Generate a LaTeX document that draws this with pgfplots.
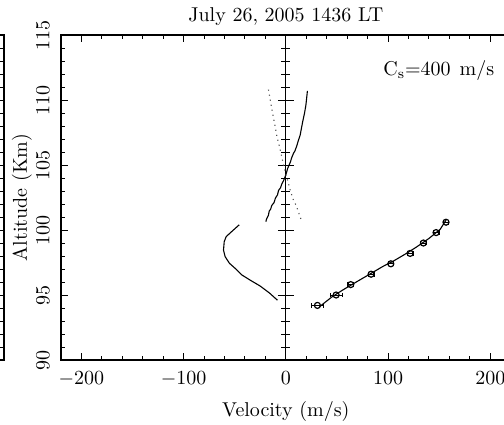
\documentclass[border=0pt]{standalone}
\usepackage{pgfplots}
\pgfplotsset{compat=1.18}
\pgfplotsset{
  every axis/.append style={font=\fontsize{10}{12}\selectfont},
  every axis title/.style={at={(0.5,1)}, anchor=base, yshift=6.65pt, inner sep=0pt},
  myax/.style={
    scale only axis, width=224.85pt, height=162.5pt,
    xmin=-220, xmax=220, ymin=90, ymax=115,
    xtick={-200,-100,...,200}, minor x tick num=4,
    ytick={90,95,...,115}, minor y tick num=4,
    tick align=inside, major tick length=3.5pt, minor tick length=2pt,
    xtick pos=both, ytick pos=both,
    axis line style={line width=0.6pt},
    every tick/.style={black, line width=0.5pt},
  }
}
\begin{document}
\begin{tikzpicture}
\useasboundingbox (0,0) rectangle (252pt,212pt);
\clip (0,0) rectangle (252pt,212pt);
% partial left panel (cropped)
\begin{axis}[myax, at={(-222.85pt,32pt)}, anchor=south west,
  xticklabels={}, yticklabels={}]
\end{axis}
% main panel
\begin{axis}[myax, at={(30.5pt,32pt)}, anchor=south west,
  title={July 26, 2005 1436 LT},
  xlabel={Velocity (m/s)},
  xlabel style={at={(axis description cs:0.5,0)}, anchor=base, yshift=-28pt, inner sep=0pt},
  ylabel={Altitude (Km)},
  ylabel style={at={(axis description cs:-0.087,0.5)}, anchor=center, inner sep=0pt},
  xticklabel style={yshift=-2.3pt},
  yticklabel style={rotate=90, anchor=south},
  yticklabel shift=2.3pt,
]
\draw[line width=0.5pt] (axis cs:0,90) -- (axis cs:0,115);
\pgfplotsinvokeforeach{91,92,93,94,96,97,98,99,101,102,103,104,106,107,108,109,111,112,113,114}{
  \draw[line width=0.5pt] ([xshift=-2.25pt]axis cs:0,#1) -- ([xshift=2.25pt]axis cs:0,#1);
}
\pgfplotsinvokeforeach{95,100,105,110}{
  \draw[line width=0.5pt] ([xshift=-4pt]axis cs:0,#1) -- ([xshift=4pt]axis cs:0,#1);
}
% solid upper profile
\addplot[black, line width=0.55pt] coordinates {
(-19.6,100.64) (-18.8,100.85) (-17,101.15) (-16.3,101.45) (-14.9,101.6) (-13.7,101.9)
(-11.6,102.1) (-10.2,102.45) (-8.2,102.7) (-7.1,103.05) (-5.2,103.25) (-3.9,103.55)
(-2.2,103.8) (-0.7,104.1) (0.6,104.4) (1.6,104.7) (3.2,105.0) (4.3,105.2) (5.9,105.6)
(7.5,105.9) (9,106.1) (10.8,106.5) (12.3,106.9) (14,107.3) (15.2,107.8) (16.4,108.3)
(17.2,108.6) (18.3,109.0) (19.6,109.6) (20.3,110.1) (21.1,110.7)
};
% dotted profile
\addplot[black!70, dotted, line width=0.55pt] coordinates {
(-17,110.8) (-15,109.9) (-13,109) (-10.8,108.1) (-8.8,107.2) (-6.8,106.6) (-5,106)
(-2.3,105) (0,104.3) (1.6,103.85) (4.5,103) (7.4,102.3) (10,101.9) (12.3,101.4) (15.6,100.64)
};
% lower-left profile
\addplot[black, line width=0.55pt] coordinates {
(-45.6,100.4) (-52,99.95) (-58.4,99.49) (-60.3,99.1) (-61,98.46) (-59.4,97.95)
(-55.2,97.44) (-49.6,97.05) (-43,96.54) (-34,96.1) (-25.1,95.69) (-16,95.15) (-8.2,94.6)
};
% fit line
\addplot[black, line width=0.55pt] coordinates {
(33,94.1) (45,94.85) (56,95.4) (70,96.05) (82,96.6) (95,97.2) (105,97.6) (118,98.2)
(128,98.7) (140,99.35) (151,100.05) (157,100.8)
};
% measured points with error bars
\addplot[black, only marks, mark=o, mark size=1.5pt, mark options={line width=0.6pt},
  error bars/.cd, x dir=both, x explicit,
  error bar style={line width=0.5pt}, error mark options={rotate=90, mark size=1.2pt}]
  coordinates {
(30.9,94.2) +- (5.7,0)
(49.2,95.0) +- (6,0)
(63.5,95.8) +- (2.8,0)
(83.4,96.6) +- (2.8,0)
(102.7,97.4) +- (2.8,0)
(121.6,98.2) +- (2.8,0)
(134.6,99.0) +- (2.8,0)
(147,99.8) +- (2.8,0)
(156.7,100.6) +- (2.8,0)
};
\node[anchor=base west, inner sep=0pt] at (axis cs:95,111.9) {C$_{\mathrm{s}}$=400\hspace{0.45em}m/s};
\end{axis}
\end{tikzpicture}
\end{document}
